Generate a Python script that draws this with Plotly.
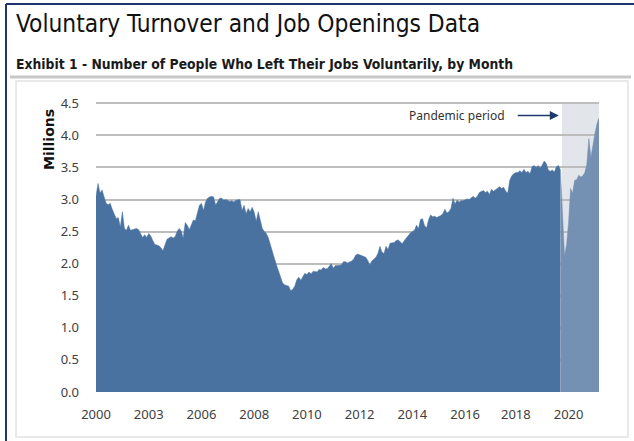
import plotly.graph_objects as go

# ---------------- data ----------------
quits = [
    3.05, 3.25, 3.10, 3.15, 3.04, 2.94, 2.92, 2.94, 2.85, 2.76,
    2.70, 2.72, 2.57, 2.81, 2.55, 2.52, 2.60, 2.52, 2.53, 2.54,
    2.55, 2.53, 2.47, 2.41, 2.45, 2.41, 2.47, 2.43, 2.36, 2.30,
    2.29, 2.28, 2.25, 2.20, 2.29, 2.38, 2.40, 2.42, 2.40, 2.42,
    2.50, 2.55, 2.51, 2.40, 2.64, 2.60, 2.53, 2.60, 2.68, 2.67,
    2.78, 2.91, 2.94, 2.83, 2.96, 3.02, 3.04, 3.05, 3.04, 2.91,
    2.97, 3.02, 3.02, 2.99, 3.00, 2.98, 2.97, 2.98, 2.96, 2.99,
    2.99, 3.00, 2.83, 2.91, 2.78, 2.86, 2.81, 2.88, 2.80, 2.66,
    2.81, 2.68, 2.55, 2.50, 2.47, 2.40, 2.28, 2.16, 2.08, 1.98,
    1.88, 1.78, 1.70, 1.67, 1.66, 1.65, 1.58, 1.60, 1.65, 1.75,
    1.79, 1.74, 1.80, 1.85, 1.83, 1.87, 1.84, 1.88, 1.88, 1.87,
    1.91, 1.90, 1.94, 1.92, 1.92, 1.96, 2.00, 1.93, 1.97, 1.97,
    1.97, 1.98, 2.03, 2.03, 2.01, 2.02, 2.04, 2.07, 2.13, 2.15,
    2.14, 2.13, 2.12, 2.10, 2.05, 1.98, 2.04, 2.07, 2.10, 2.16,
    2.27, 2.18, 2.16, 2.27, 2.22, 2.32, 2.32, 2.33, 2.36, 2.37,
    2.34, 2.31, 2.36, 2.40, 2.44, 2.48, 2.50, 2.52, 2.60, 2.55,
    2.69, 2.70, 2.59, 2.56, 2.69, 2.76, 2.73, 2.74, 2.72, 2.73,
    2.75, 2.78, 2.85, 2.79, 2.81, 2.86, 3.02, 2.93, 2.99, 2.96,
    2.98, 2.98, 2.99, 3.01, 3.00, 3.03, 3.05, 3.02, 3.05, 3.11,
    3.12, 3.14, 3.11, 3.13, 3.08, 3.16, 3.13, 3.15, 3.17, 3.20,
    3.17, 3.19, 3.13, 3.10, 3.30, 3.37, 3.40, 3.42, 3.42, 3.45,
    3.42, 3.47, 3.42, 3.44, 3.40, 3.51, 3.53, 3.50, 3.53, 3.49,
    3.54, 3.60, 3.56, 3.46, 3.44, 3.46, 3.43, 3.51, 3.53, 3.46,
    2.85, 2.12, 2.30, 2.65, 3.17, 3.10, 3.30, 3.31, 3.38, 3.35,
    3.37, 3.42, 3.55, 3.95, 3.66, 3.88, 4.03, 4.18, 4.27,
]
months = list(range(len(quits)))          # monthly index
pandemic_start = 229                      # last pre-pandemic month index
pandemic_shade_from = 229.7
x_tick_pos = [0, 26, 52, 78, 104, 130, 156, 182, 207, 233]
x_tick_text = ["2000", "2003", "2006", "2008", "2010", "2012", "2014", "2016", "2018", "2020"]
y_ticks = [0.0, 0.5, 1.0, 1.5, 2.0, 2.5, 3.0, 3.5, 4.0, 4.5]

# ---------------- figure ----------------
DARK = "#4a72a0"
LIGHT = "#7491b3"
TICKFONT = dict(family="Noto Sans, Open Sans, sans-serif", size=13, color="#404040")
COND = "DejaVu Sans Condensed, DejaVu Sans, sans-serif"

fig = go.Figure()
fig.add_trace(go.Scatter(
    x=months[:pandemic_start + 1], y=quits[:pandemic_start + 1],
    mode="lines", fill="tozeroy", fillcolor=DARK,
    line=dict(color=DARK, width=0.5), hoverinfo="x+y", showlegend=False))
fig.add_trace(go.Scatter(
    x=months[pandemic_start:], y=quits[pandemic_start:],
    mode="lines", fill="tozeroy", fillcolor=LIGHT,
    line=dict(color=LIGHT, width=0.5), hoverinfo="x+y", showlegend=False))

L, R, T, B = 96, 35, 102, 49
W, H = 634, 441
pw, ph = W - L - R, H - T - B

def px(xp):
    return (xp - L) / pw

def py(yp):
    return (H - B - yp) / ph

shapes = [
    dict(type="rect", xref="x", yref="y", x0=pandemic_shade_from, x1=months[-1],
         y0=0, y1=4.5, fillcolor="#e2e5ea", line=dict(width=0), layer="below"),
    dict(type="rect", xref="paper", yref="paper", x0=px(16), x1=px(628),
         y0=py(437), y1=py(81), line=dict(color="#e2e2e2", width=1.5),
         fillcolor="rgba(0,0,0,0)", layer="below"),
    dict(type="line", xref="paper", yref="paper", x0=px(10), x1=px(631),
         y0=py(77), y1=py(77), line=dict(color="#c8c8c8", width=3)),
    dict(type="line", xref="paper", yref="paper", x0=px(6), x1=px(6),
         y0=py(441), y1=py(4), line=dict(color="#1f3470", width=2)),
    dict(type="line", xref="paper", yref="paper", x0=px(6), x1=px(634),
         y0=py(4), y1=py(4), line=dict(color="#1f3470", width=2)),
]

annotations = [
    dict(text="Voluntary Turnover and Job Openings Data", xref="paper", yref="paper",
         x=px(14), y=py(24), xanchor="left", yanchor="middle", showarrow=False,
         font=dict(family=COND, size=24.3, color="#111111")),
    dict(text="<b>Exhibit 1 - Number of People Who Left Their Jobs Voluntarily, by Month</b>",
         xref="paper", yref="paper", x=px(14), y=py(64), xanchor="left", yanchor="middle",
         showarrow=False, font=dict(family=COND, size=13.8, color="#1a1a1a")),
    dict(text="<b>Millions</b>", xref="paper", yref="paper", x=px(49), y=py(140),
         xanchor="center", yanchor="middle", textangle=-90, showarrow=False,
         font=dict(family="DejaVu Sans, sans-serif", size=14, color="#111111")),
    dict(text="Pandemic period", xref="x", yref="y", x=202.5, y=4.31,
         xanchor="right", yanchor="middle", showarrow=False,
         font=dict(family="Noto Sans, sans-serif", size=12, color="#333333")),
    dict(text="", xref="x", yref="y", x=228.2, y=4.31, axref="x", ayref="y",
         ax=207.2, ay=4.31, showarrow=True, arrowhead=2, arrowsize=1.2,
         arrowwidth=1.5, arrowcolor="#1f3a6b"),
]

fig.update_layout(
    width=W, height=H,
    margin=dict(l=L, r=R, t=T, b=B),
    paper_bgcolor="white", plot_bgcolor="white",
    shapes=shapes, annotations=annotations,
    xaxis=dict(range=[0, months[-1]], tickmode="array", tickvals=x_tick_pos,
               ticktext=x_tick_text, showgrid=False, zeroline=False, showline=False,
               ticks="outside", ticklen=10, tickcolor="rgba(0,0,0,0)",
               tickfont=TICKFONT, fixedrange=True),
    yaxis=dict(range=[0, 4.52], tickmode="array", tickvals=y_ticks,
               ticktext=[f"{v:.1f}" for v in y_ticks], showgrid=True,
               gridcolor="#bdbdbd", gridwidth=1.5, zeroline=False, showline=False,
               ticks="", ticklabelstandoff=16,
               tickfont=TICKFONT, fixedrange=True),
    showlegend=False,
)

fig.write_html("out.html", config={"displayModeBar": False},
               post_script="document.body.style.margin='0';")
